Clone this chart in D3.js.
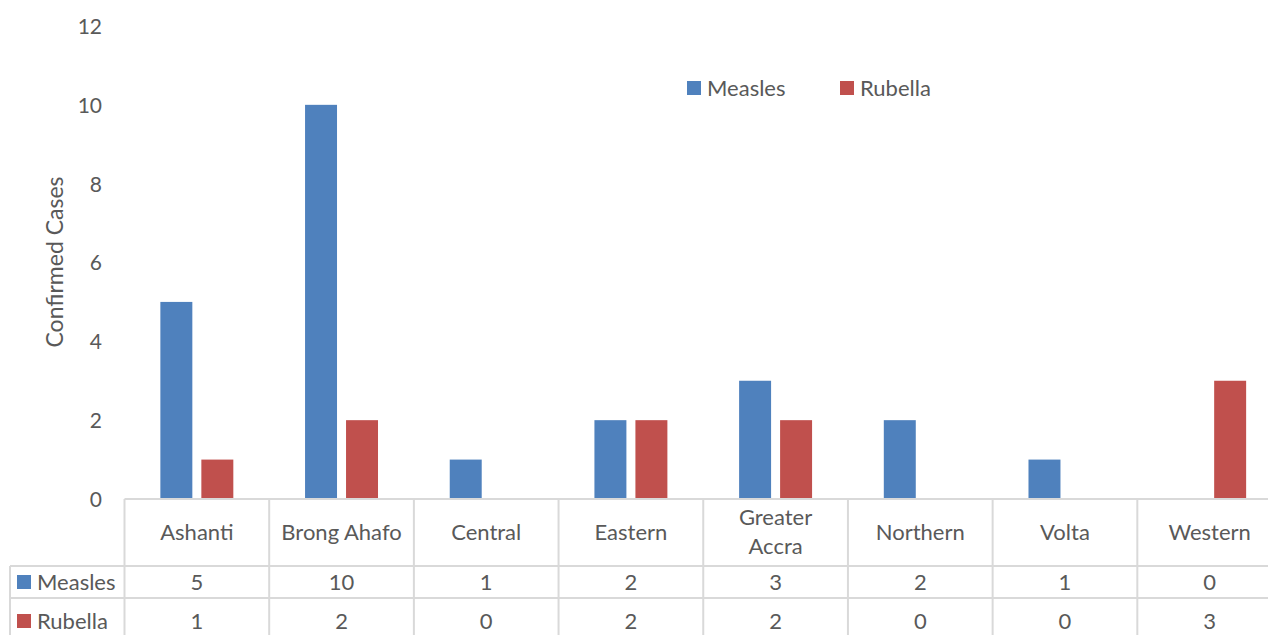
<!DOCTYPE html>
<html><head><meta charset="utf-8">
<script src="https://cdn.jsdelivr.net/npm/d3@7"></script>
<style>body{margin:0;background:#fff}svg{display:block}text{font-family:Lato,"Open Sans",sans-serif;fill:#595959}</style>
</head><body><svg id="c" width="1268" height="635"></svg>
<script>
const categories = ["Ashanti","Brong Ahafo","Central","Eastern","Greater Accra","Northern","Volta","Western"];
const categoryLines = [["Ashanti"],["Brong Ahafo"],["Central"],["Eastern"],["Greater","Accra"],["Northern"],["Volta"],["Western"]];
const seriesNames = ["Measles","Rubella"];
const measles = [5,10,1,2,3,2,1,0];
const rubella = [1,2,0,2,2,0,0,3];
const yTicks = [0,2,4,6,8,10,12];
const colors = ["#4f81bd","#c0504d"];
const seriesValues = [measles, rubella];

(function(){
const svg = d3.select("#c");
const pLeft = 124.5, pRight = 1282, pTop = 26, pBottom = 499;
const x = d3.scaleBand().domain(categories).range([pLeft,pRight]).paddingInner(0).paddingOuter(0);
const xs = d3.scaleBand().domain(seriesNames).range([0,x.bandwidth()]).paddingInner(0.22).paddingOuter(0.875);
const y = d3.scaleLinear().domain([0,12]).range([pBottom,pTop]);

const yAxis = d3.axisLeft(y).tickValues(yTicks).tickSize(0).tickPadding(0);
const ga = svg.append("g").attr("transform",`translate(102,0)`).call(yAxis);
ga.select(".domain").remove();
ga.selectAll("text").style("font-family","Lato,sans-serif").attr("font-size",21).attr("fill","#595959").attr("dy","0.35em");

svg.append("text").attr("transform","translate(63,262) rotate(-90)").attr("text-anchor","middle").attr("font-size",23).text("Confirmed Cases");

seriesNames.forEach((s,si)=>{
  svg.append("g").selectAll("rect").data(categories).join("rect")
    .attr("x",d=>x(d)+xs(s)).attr("width",xs.bandwidth())
    .attr("y",(d,i)=>y(seriesValues[si][i])).attr("height",(d,i)=>y(0)-y(seriesValues[si][i]))
    .attr("fill",colors[si]);
});

const grid = svg.append("g").attr("stroke","#d9d9d9").attr("stroke-width",2);
const rowY = [499,566,598,640];
grid.append("line").attr("x1",pLeft).attr("x2",pRight).attr("y1",rowY[0]).attr("y2",rowY[0]);
grid.append("line").attr("x1",10).attr("x2",pRight).attr("y1",rowY[1]).attr("y2",rowY[1]);
grid.append("line").attr("x1",10).attr("x2",pRight).attr("y1",rowY[2]).attr("y2",rowY[2]);
grid.append("line").attr("x1",10).attr("x2",10).attr("y1",rowY[1]).attr("y2",rowY[3]);
categories.forEach(c=>{
  grid.append("line").attr("x1",x(c)).attr("x2",x(c)).attr("y1",rowY[0]).attr("y2",rowY[3]);
});
grid.append("line").attr("x1",pRight).attr("x2",pRight).attr("y1",rowY[0]).attr("y2",rowY[3]);

categories.forEach((c,i)=>{
  const lines = categoryLines[i];
  const cx = x(c)+x.bandwidth()/2;
  const cy = 532;
  lines.forEach((l,j)=>{
    svg.append("text").attr("x",cx).attr("y",cy+(j-(lines.length-1)/2)*29).attr("dy","0.35em")
      .attr("text-anchor","middle").attr("font-size",22).text(l);
  });
});
const rowCenters = [582,621];
seriesNames.forEach((s,si)=>{
  svg.append("rect").attr("x",17).attr("y",rowCenters[si]-7).attr("width",14).attr("height",14).attr("fill",colors[si]);
  svg.append("text").attr("x",37).attr("y",rowCenters[si]).attr("dy","0.35em").attr("font-size",22).text(s);
  categories.forEach((c,i)=>{
    svg.append("text").attr("x",x(c)+x.bandwidth()/2).attr("y",rowCenters[si]).attr("dy","0.35em")
      .attr("text-anchor","middle").attr("font-size",22).text(seriesValues[si][i]);
  });
});

const legX = [687,840];
seriesNames.forEach((s,si)=>{
  svg.append("rect").attr("x",legX[si]).attr("y",81).attr("width",14).attr("height",14).attr("fill",colors[si]);
  svg.append("text").attr("x",legX[si]+20).attr("y",88).attr("dy","0.35em").attr("font-size",22).text(s);
});
})();
</script></body></html>
